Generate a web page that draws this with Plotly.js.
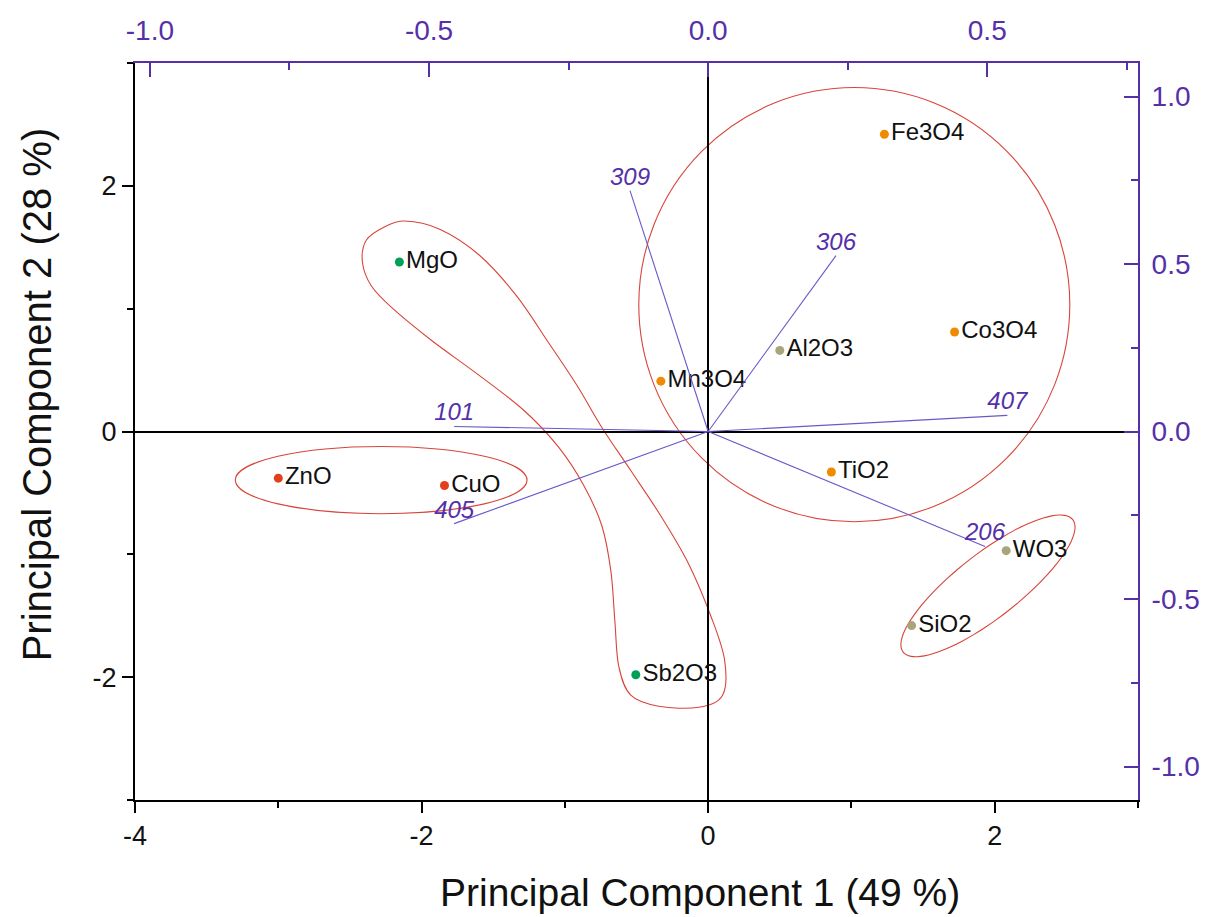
<!DOCTYPE html>
<html>
<head>
<meta charset="utf-8">
<script src="https://cdn.plot.ly/plotly-3.0.1.min.js"></script>
<style>html,body{margin:0;padding:0;background:#fff;}#chart{width:1210px;height:917px;}</style>
</head>
<body>
<div id="chart"></div>
<script>
// ---- data ----
const sampleNames = ['Fe3O4','Co3O4','Al2O3','Mn3O4','TiO2','WO3','SiO2','Sb2O3','MgO','ZnO','CuO'];
const pc1Scores  = [1.23, 1.72, 0.50, -0.33, 0.86, 2.08, 1.42, -0.505, -2.155, -3.00, -1.84];
const pc2Scores  = [2.42, 0.81, 0.66, 0.41, -0.33, -0.97, -1.58, -1.98, 1.38, -0.38, -0.44];
const sampleGroup = ['orange','orange','tan','orange','orange','tan','tan','green','green','red','red'];

const loadingNames = ['309','306','101','407','405','206'];
const pc1Loadings  = [-0.140, 0.229, -0.455, 0.536, -0.455, 0.496];
const pc2Loadings  = [0.719, 0.525, 0.015, 0.048, -0.275, -0.343];

const xTickVals = [-4,-2,0,2];
const xTickText = ['-4','-2','0','2'];
const yTickVals = [-2,0,2];
const yTickText = ['-2','0','2'];
const topTickVals = [-1,-0.5,0,0.5];
const topTickText = ['-1.0','-0.5','0.0','0.5'];
const rightTickVals = [-1,-0.5,0,0.5,1];
const rightTickText = ['-1.0','-0.5','0.0','0.5','1.0'];

// ---- styles ----
const groupColors = {orange:'#F08A00', tan:'#A9A47C', green:'#00A05A', red:'#E2401A'};
const purple = '#5530A8';
const loadLine = '#6A58C8';
const ringColor = '#D8453A';
const font = 'Liberation Sans, Arial, sans-serif';

// loading vectors as one line trace with gaps
const lx = [], ly = [];
pc1Loadings.forEach((v,i)=>{ lx.push(0, v, null); ly.push(0, pc2Loadings[i], null); });

const traces = [
  {x: lx, y: ly, xaxis:'x2', yaxis:'y2', mode:'lines', line:{color:loadLine, width:1.1}, hoverinfo:'skip', showlegend:false},
  {x: pc1Loadings, y: pc2Loadings, xaxis:'x2', yaxis:'y2', mode:'text', text: loadingNames,
   textposition:'top center', textfont:{family:font, size:24, color:purple, style:'italic'}, showlegend:false, hoverinfo:'skip'},
  {x: pc1Scores, y: pc2Scores, mode:'markers+text', text: sampleNames, textposition:'middle right',
   marker:{size:9, color: sampleGroup.map(g=>groupColors[g])},
   textfont:{family:font, size:24, color:'#111'}, showlegend:false}
];

function smoothClosedPath(xs, ys){
  const n = xs.length;
  let d = 'M' + xs[0] + ',' + ys[0];
  for (let i=0;i<n;i++){
    const p0=(i-1+n)%n, p1=i, p2=(i+1)%n, p3=(i+2)%n;
    const c1x = xs[p1]+(xs[p2]-xs[p0])/6, c1y = ys[p1]+(ys[p2]-ys[p0])/6;
    const c2x = xs[p2]-(xs[p3]-xs[p1])/6, c2y = ys[p2]-(ys[p3]-ys[p1])/6;
    d += ' C'+c1x+','+c1y+' '+c2x+','+c2y+' '+xs[p2]+','+ys[p2];
  }
  return d + ' Z';
}
// curved enclosure around MgO and Sb2O3
const bxs = [-2.120,-1.877,-1.598,-1.341,-1.111,-0.916,-0.742,-0.540,-0.331,-0.136,0.024,0.115,0.101,-0.066,-0.345,-0.540,-0.624,-0.651,-0.679,-0.742,-0.867,-1.041,-1.285,-1.598,-1.932,-2.204,-2.350,-2.413,-2.385,-2.260];
const bys = [1.714,1.649,1.437,1.110,0.718,0.376,0.033,-0.318,-0.686,-1.078,-1.518,-1.861,-2.147,-2.245,-2.237,-2.147,-1.910,-1.543,-1.135,-0.767,-0.441,-0.131,0.171,0.457,0.743,1.004,1.184,1.380,1.559,1.665];

// tilted ellipse around WO3 / SiO2
function ellipsePath(cx, cy, ax, ay, bx, by){
  const xs=[], ys=[];
  for (let k=0;k<48;k++){ const t=2*Math.PI*k/48; xs.push(cx+ax*Math.cos(t)+bx*Math.sin(t)); ys.push(cy+ay*Math.cos(t)+by*Math.sin(t)); }
  return smoothClosedPath(xs, ys);
}

const shapes = [
  {type:'circle', xref:'x', yref:'y', x0:-0.484, x1:2.524, y0:-0.735, y1:2.80, line:{color:ringColor, width:1.1}, layer:'below'},
  {type:'circle', xref:'x', yref:'y', x0:-3.30, x1:-1.264, y0:-0.669, y1:-0.122, line:{color:ringColor, width:1.1}, layer:'below'},
  {type:'path', xref:'x', yref:'y', path: ellipsePath(1.953,-1.257,0.592,0.539,0.137,-0.206), line:{color:ringColor, width:1.1}, layer:'below'},
  {type:'path', xref:'x', yref:'y', path: smoothClosedPath(bxs, bys), line:{color:ringColor, width:1.1}, layer:'below'}
];

const layout = {
  width:1210, height:917,
  margin:{l:135, r:72, t:63, b:117},
  paper_bgcolor:'#fff', plot_bgcolor:'#fff',
  showlegend:false,
  font:{family:font},
  xaxis:{range:[-4,3], tickvals:xTickVals, ticktext:xTickText, ticks:'outside', ticklen:11, tickwidth:2, tickcolor:'#000',
    minor:{dtick:1, ticks:'outside', ticklen:6, tickwidth:2, tickcolor:'#000'},
    showline:true, linecolor:'#000', linewidth:2, showgrid:false,
    zeroline:true, zerolinecolor:'#000', zerolinewidth:2,
    tickfont:{size:27, color:'#111', family:font}},
  yaxis:{range:[-3,3], tickvals:yTickVals, ticktext:yTickText, ticks:'outside', ticklen:11, tickwidth:2, tickcolor:'#000',
    minor:{dtick:1, ticks:'outside', ticklen:6, tickwidth:2, tickcolor:'#000'},
    showline:true, linecolor:'#000', linewidth:2, showgrid:false,
    zeroline:true, zerolinecolor:'#000', zerolinewidth:2,
    tickfont:{size:27, color:'#111', family:font}},
  xaxis2:{overlaying:'x', side:'top', anchor:'y', range:[-1.0267,0.77], tickvals:topTickVals, ticktext:topTickText,
    ticks:'inside', ticklen:14, tickwidth:2, tickcolor:purple,
    minor:{dtick:0.25, tick0:0, ticks:'inside', ticklen:7, tickwidth:2, tickcolor:purple},
    showline:true, linecolor:purple, linewidth:2, showgrid:false, zeroline:false,
    ticklabelstandoff:10,
    tickfont:{size:28, color:purple, family:font}},
  yaxis2:{overlaying:'y', side:'right', anchor:'x', range:[-1.1,1.1], tickvals:rightTickVals, ticktext:rightTickText,
    ticks:'inside', ticklen:14, tickwidth:2, tickcolor:purple,
    minor:{dtick:0.25, tick0:0, ticks:'inside', ticklen:7, tickwidth:2, tickcolor:purple},
    showline:true, linecolor:purple, linewidth:2, showgrid:false, zeroline:false,
    ticklabelstandoff:6,
    tickfont:{size:28, color:purple, family:font}},
  shapes: shapes,
  annotations:[
    {text:'Principal Component 1 (49 %)', xref:'paper', yref:'paper', x:0.563, y:-0.126, xanchor:'center', yanchor:'middle',
     showarrow:false, font:{size:39, color:'#111', family:font}},
    {text:'Principal Component 2 (28 %)', xref:'paper', yref:'paper', x:-0.098, y:0.55, xanchor:'center', yanchor:'middle',
     textangle:-90, showarrow:false, font:{size:40, color:'#111', family:font}}
  ]
};

Plotly.newPlot('chart', traces, layout, {displayModeBar:false, staticPlot:true});
</script>
</body>
</html>
